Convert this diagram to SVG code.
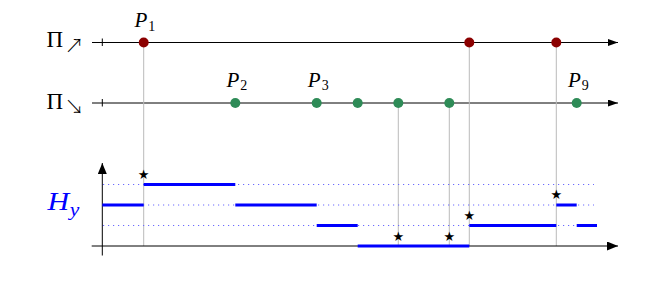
<svg xmlns="http://www.w3.org/2000/svg" width="654" height="308" viewBox="0 0 654 308">
<style>
.axis{stroke:#000;stroke-width:1;fill:none}
.tick{stroke:#000;stroke-width:1}
.guide{stroke:#bbb;stroke-width:1}
.dot-r{fill:#8b0000}
.dot-g{fill:#2e8b57}
.math{font-family:"Liberation Serif",serif;font-style:italic;fill:#000}
.sub{font-family:"Liberation Serif",serif;font-style:normal}
.pi{font-family:"Liberation Serif",serif;fill:#000}
.arr{font-family:"Noto Sans CJK JP","DejaVu Sans",sans-serif;font-weight:300}
.level{stroke:#6a6aff;stroke-width:1;stroke-dasharray:1.2 3.8}
.seg{stroke:#0000ff;stroke-width:3;stroke-linecap:butt}
.star{font-family:"DejaVu Sans",sans-serif;fill:#000;text-anchor:middle}
</style>
<defs>
<marker id="arrS" markerUnits="userSpaceOnUse" markerWidth="10" markerHeight="7" refX="10" refY="3.5" orient="auto">
<path d="M0,0 L10,3.5 L0,7 z" fill="#000"/>
</marker>
<marker id="arrL" markerUnits="userSpaceOnUse" markerWidth="11" markerHeight="9" refX="11" refY="4.5" orient="auto">
<path d="M0,0 L11,4.5 L0,9 z" fill="#000"/>
</marker>
</defs>

<g id="axes">
<line class="axis" x1="92" y1="42.5" x2="618" y2="42.5" marker-end="url(#arrS)"/>
<line class="tick" x1="102.3" y1="38.5" x2="102.3" y2="46"/>
<line class="axis" x1="92" y1="103" x2="618" y2="103" marker-end="url(#arrS)"/>
<line class="tick" x1="102.3" y1="99" x2="102.3" y2="106.5"/>
<text class="pi" x="46.5" y="47" font-size="23">Π<tspan class="arr" font-size="19" dx="1.5" dy="5.5">↗</tspan></text>
<text class="pi" x="46.5" y="108.5" font-size="23">Π<tspan class="arr" font-size="19" dx="1.5" dy="5.5">↘</tspan></text>
</g>

<g id="connectors">
<line class="guide" x1="143.7" y1="42.5" x2="143.7" y2="246"/>
<line class="guide" x1="398.3" y1="103" x2="398.3" y2="246"/>
<line class="guide" x1="449.3" y1="103" x2="449.3" y2="246"/>
<line class="guide" x1="469.3" y1="42.5" x2="469.3" y2="246"/>
<line class="guide" x1="556.3" y1="42.5" x2="556.3" y2="246"/>
</g>

<g id="P1"><circle class="dot-r" cx="143.7" cy="42.5" r="5"/><text class="math" x="134.5" y="27" font-size="21">P<tspan class="sub" font-size="14" dx="1" dy="3.5">1</tspan></text></g>
<g id="R2"><circle class="dot-r" cx="469.3" cy="42.5" r="5"/></g>
<g id="R3"><circle class="dot-r" cx="556.3" cy="42.5" r="5"/></g>

<g id="P2"><circle class="dot-g" cx="235.3" cy="103" r="5"/><text class="math" x="226.5" y="86.7" font-size="21">P<tspan class="sub" font-size="14" dx="1" dy="3.5">2</tspan></text></g>
<g id="P3"><circle class="dot-g" cx="316.7" cy="103" r="5"/><text class="math" x="307.8" y="86.7" font-size="21">P<tspan class="sub" font-size="14" dx="1" dy="3.5">3</tspan></text></g>
<g id="G4"><circle class="dot-g" cx="357.7" cy="103" r="5"/></g>
<g id="G5"><circle class="dot-g" cx="398.3" cy="103" r="5"/></g>
<g id="G6"><circle class="dot-g" cx="449.3" cy="103" r="5"/></g>
<g id="P9"><circle class="dot-g" cx="576.7" cy="103" r="5"/><text class="math" x="568" y="86.7" font-size="21">P<tspan class="sub" font-size="14" dx="1" dy="3.5">9</tspan></text></g>

<g id="chart">
<line class="level" x1="103" y1="184.5" x2="594" y2="184.5"/>
<line class="level" x1="103" y1="205" x2="594" y2="205"/>
<line class="level" x1="103" y1="225.5" x2="594" y2="225.5"/>
<line class="axis" x1="91.7" y1="246" x2="618" y2="246" marker-end="url(#arrL)"/>
<line class="axis" x1="102.3" y1="255.5" x2="102.3" y2="163" marker-end="url(#arrL)"/>
<line class="seg" x1="102.3" y1="205" x2="143.7" y2="205"/>
<line class="seg" x1="143.7" y1="184.5" x2="235.3" y2="184.5"/>
<line class="seg" x1="235.3" y1="205" x2="316.7" y2="205"/>
<line class="seg" x1="316.7" y1="225.5" x2="357.7" y2="225.5"/>
<line class="seg" x1="357.7" y1="246" x2="469.3" y2="246"/>
<line class="seg" x1="469.3" y1="225.5" x2="556.3" y2="225.5"/>
<line class="seg" x1="556.3" y1="205" x2="576.7" y2="205"/>
<line class="seg" x1="576.7" y1="225.5" x2="597" y2="225.5"/>
<text class="star" font-size="13" x="143.7" y="179">★</text>
<text class="star" font-size="13" x="398.3" y="240.5">★</text>
<text class="star" font-size="13" x="449.3" y="240.5">★</text>
<text class="star" font-size="13" x="469.3" y="219.8">★</text>
<text class="star" font-size="13" x="556.3" y="199">★</text>
<text class="math" transform="translate(47.5 209.5) scale(1.2 1)" x="0" y="0" font-size="25" style="fill:#0000ff">H<tspan font-size="18" dx="0.5" dy="6.5">y</tspan></text>
</g>
</svg>
